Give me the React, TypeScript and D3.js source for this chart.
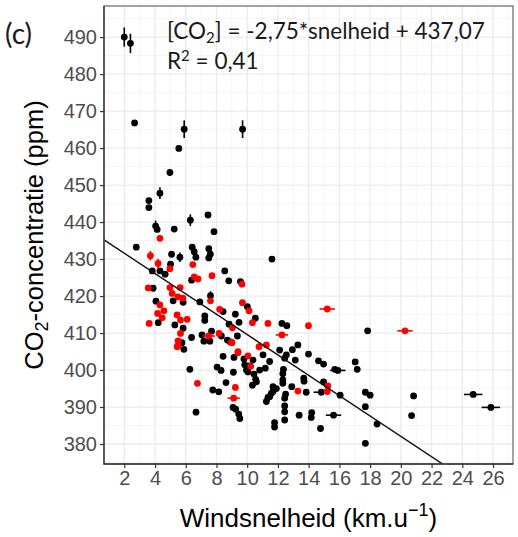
import React, { useEffect, useRef } from 'react';
import * as d3 from 'd3';

// wind speed (km/u) vs CO2 concentration (ppm)
const blackPoints: [number, number][] = [
  [2.0, 490], [2.4, 488.3], [2.67, 466.8], [5.9, 465.1], [9.7, 465.1], [5.55, 459.9],
  [4.97, 453.4], [4.32, 447.8], [3.6, 445.8], [3.6, 443.9], [6.3, 440.5], [7.45, 441.9],
  [4.04, 438.9], [4.14, 438.0], [5.25, 438.1], [7.84, 437.4], [2.78, 433.2], [5.08, 431.3],
  [5.62, 430.5], [5.01, 428.6], [3.82, 426.8], [4.32, 426.8], [4.66, 425.9], [6.42, 433.2],
  [6.55, 432.0], [6.66, 430.5], [7.5, 432.8], [7.6, 431.3], [7.5, 430.3], [6.38, 424.3],
  [8.54, 426.8], [8.8, 424.1], [9.56, 423.9], [11.61, 430.0], [3.88, 422.1], [4.06, 418.6],
  [4.21, 412.8], [5.18, 418.7], [5.83, 418.3], [5.29, 412.2], [5.83, 411.3], [5.75, 407.4],
  [5.88, 405.6], [6.38, 408.8], [6.92, 418.4], [7.61, 420.1], [7.24, 414.6], [7.24, 413.4],
  [7.06, 409.5], [7.57, 407.8], [7.18, 407.8], [7.68, 410.5], [8.43, 415.8], [9.23, 415.1],
  [8.82, 412.4], [9.47, 412.9], [9.36, 409.2], [8.71, 408.1], [8.32, 409.2], [10.01, 417.1],
  [10.53, 414.0], [12.26, 412.6], [12.58, 412.0], [11.03, 404.1], [12.11, 405.4], [12.55, 404.1],
  [12.94, 405.5], [13.3, 406.8], [13.13, 402.7], [12.44, 403.2], [13.99, 404.3], [11.46, 402.3],
  [11.18, 400.5], [10.81, 400.0], [10.38, 402.7], [9.79, 403.0], [10.16, 401.1], [9.95, 400.0],
  [10.55, 397.5], [10.34, 395.9], [9.14, 403.4], [8.43, 403.7], [8.04, 400.8], [8.3, 399.9],
  [9.1, 399.4], [6.27, 400.2], [7.76, 394.6], [8.15, 394.1], [8.62, 396.6], [9.08, 389.9],
  [9.25, 389.4], [9.45, 388.1], [9.52, 386.9], [6.67, 388.6], [11.68, 394.2], [11.46, 392.8],
  [11.25, 391.5], [11.9, 395.0], [11.78, 385.8], [11.78, 384.6], [12.44, 388.7], [12.44, 390.3],
  [12.44, 392.4], [12.5, 393.5], [12.44, 386.5], [12.32, 399.0], [12.36, 400.2], [12.32, 397.3],
  [12.9, 395.5], [13.38, 387.8], [13.84, 394.0], [14.2, 388.5], [14.17, 387.2], [13.68, 397.8],
  [13.7, 397.0], [11.68, 395.5], [14.64, 402.5], [14.97, 401.6], [15.7, 400.2], [15.9, 399.9],
  [17.03, 402.2], [17.16, 400.2], [14.97, 396.8], [14.82, 394.0], [16.05, 393.2], [17.69, 394.0],
  [18.0, 393.2], [20.83, 393.0], [17.69, 390.1], [20.7, 387.7], [24.71, 393.4], [25.86, 389.9],
  [15.62, 387.8], [14.77, 384.2], [18.45, 385.4], [17.69, 380.2], [17.84, 410.6], [8.9, 407.6],
  [9.84, 401.4], [10.05, 399.5], [10.44, 398.9], [12.32, 396.4], [10.6, 396.8], [11.57, 393.7],
  [11.35, 392.6],
];

const redPoints: [number, number][] = [
  [4.32, 435.6], [3.7, 430.9], [4.2, 428.8], [4.97, 427.4], [6.46, 428.5], [6.55, 425.2],
  [6.8, 424.6], [7.71, 425.5], [9.66, 423.2], [3.56, 422.2], [4.97, 422.3], [5.64, 422.3],
  [5.12, 420.7], [5.49, 419.8], [5.81, 419.4], [4.32, 417.6], [4.58, 416.0], [4.17, 415.3],
  [4.47, 414.1], [3.62, 412.6], [5.44, 414.9], [5.66, 413.5], [6.09, 413.7], [5.66, 409.9],
  [5.5, 407.9], [5.44, 406.3], [7.61, 418.7], [7.5, 409.2], [8.17, 409.9], [8.21, 416.4],
  [9.04, 411.4], [8.97, 407.5], [9.4, 405.0], [9.69, 418.2], [10.12, 416.0], [10.34, 412.8],
  [11.35, 412.6], [13.99, 412.0], [12.26, 409.5], [10.77, 406.3], [11.25, 406.8], [10.23, 401.0],
  [9.4, 404.7], [9.01, 407.4], [10.05, 403.8], [6.76, 396.4], [9.23, 395.3], [9.12, 392.4],
  [13.3, 394.3], [15.21, 416.5], [20.27, 410.6], [15.25, 395.7], [15.21, 394.2], [5.49, 406.5],
];

// error bars: [x, y, half-width]
const blackYErr: [number, number, number][] = [
  [2.0, 490, 2.6], [2.4, 488.3, 2.6], [5.9, 465.1, 2.4], [9.7, 465.1, 2.4],
  [4.32, 447.8, 1.6], [6.3, 440.5, 1.6], [4.04, 438.9, 1.5], [5.62, 430.5, 1.3], [7.61, 420.1, 1.2],
];
const blackXErr: [number, number, number][] = [
  [24.71, 393.4, 0.6], [25.86, 389.9, 0.6], [15.62, 387.8, 0.5], [14.82, 394.0, 0.5], [15.9, 399.9, 0.5],
];
const redYErr: [number, number, number][] = [
  [3.7, 430.9, 1.3], [4.2, 428.8, 1.3],
];
const redXErr: [number, number, number][] = [
  [7.5, 409.2, 0.4], [12.26, 409.5, 0.4], [9.12, 392.4, 0.4], [15.21, 416.5, 0.5], [20.27, 410.6, 0.5],
];

const xTicks = [2, 4, 6, 8, 10, 12, 14, 16, 18, 20, 22, 24, 26];
const yTicks = [380, 390, 400, 410, 420, 430, 440, 450, 460, 470, 480, 490];

const slope = -2.75;
const intercept = 437.07;

const W = 518;
const H = 537;

const App = () => {
  const svgRef = useRef<SVGSVGElement>(null);

  useEffect(() => {
    const svg = d3.select(svgRef.current);
    svg.selectAll('*').remove();

    const left = 104, right = 513, top = 6, bottom = 464;

    const x = d3.scaleLinear().domain([0.68, 27.3]).range([left, right]);
    const y = d3.scaleLinear().domain([374.6, 498.4]).range([bottom, top]);

    svg.append('rect').attr('width', W).attr('height', H).attr('fill', '#fff');

    // gridlines
    const grid = svg.append('g');
    d3.range(1, 28, 1).filter(v => v % 2 === 1).forEach(v => {
      grid.append('line').attr('x1', x(v)).attr('x2', x(v)).attr('y1', top).attr('y2', bottom)
        .attr('stroke', '#f2f2f2').attr('stroke-width', 0.8);
    });
    d3.range(375, 500, 10).forEach(v => {
      grid.append('line').attr('x1', left).attr('x2', right).attr('y1', y(v)).attr('y2', y(v))
        .attr('stroke', '#f2f2f2').attr('stroke-width', 0.8);
    });
    xTicks.forEach(v => {
      grid.append('line').attr('x1', x(v)).attr('x2', x(v)).attr('y1', top).attr('y2', bottom)
        .attr('stroke', '#ebebeb').attr('stroke-width', 1.3);
    });
    yTicks.forEach(v => {
      grid.append('line').attr('x1', left).attr('x2', right).attr('y1', y(v)).attr('y2', y(v))
        .attr('stroke', '#ebebeb').attr('stroke-width', 1.3);
    });

    const clip = svg.append('clipPath').attr('id', 'panel-clip');
    clip.append('rect').attr('x', left).attr('y', top).attr('width', right - left).attr('height', bottom - top);

    const plot = svg.append('g').attr('clip-path', 'url(#panel-clip)');

    // error bars
    const drawYErr = (rows: [number, number, number][], color: string) => {
      rows.forEach(([a, b, e]) => {
        plot.append('line').attr('x1', x(a)).attr('x2', x(a)).attr('y1', y(b - e)).attr('y2', y(b + e))
          .attr('stroke', color).attr('stroke-width', 1.6);
      });
    };
    const drawXErr = (rows: [number, number, number][], color: string) => {
      rows.forEach(([a, b, e]) => {
        plot.append('line').attr('x1', x(a - e)).attr('x2', x(a + e)).attr('y1', y(b)).attr('y2', y(b))
          .attr('stroke', color).attr('stroke-width', 1.6);
      });
    };
    drawYErr(blackYErr, '#000');
    drawXErr(blackXErr, '#000');

    plot.selectAll('circle.black')
      .data(blackPoints)
      .enter().append('circle')
      .attr('class', 'black')
      .attr('cx', d => x(d[0]))
      .attr('cy', d => y(d[1]))
      .attr('r', 3.4)
      .attr('fill', '#000');

    drawYErr(redYErr, '#ff0000');
    drawXErr(redXErr, '#ff0000');

    plot.selectAll('circle.red')
      .data(redPoints)
      .enter().append('circle')
      .attr('class', 'red')
      .attr('cx', d => x(d[0]))
      .attr('cy', d => y(d[1]))
      .attr('r', 3.4)
      .attr('fill', '#ff0000');

    // regression line
    const x0 = 0.68, x1 = 27.3;
    plot.append('line')
      .attr('x1', x(x0)).attr('y1', y(slope * x0 + intercept))
      .attr('x2', x(x1)).attr('y2', y(slope * x1 + intercept))
      .attr('stroke', '#111').attr('stroke-width', 1.4);

    // panel border
    svg.append('rect').attr('x', left).attr('y', top).attr('width', right - left).attr('height', bottom - top)
      .attr('fill', 'none').attr('stroke', '#666').attr('stroke-width', 1.2);
    svg.append('path')
      .attr('d', `M${left},${top}V${bottom}H${right}`)
      .attr('fill', 'none').attr('stroke', '#333').attr('stroke-width', 1.3);

    // axes
    const font = '"Liberation Sans", Arial, sans-serif';
    const yAxis = svg.append('g').attr('transform', `translate(${left},0)`)
      .call(d3.axisLeft(y).tickValues(yTicks).tickSize(4).tickPadding(3));
    const xAxis = svg.append('g').attr('transform', `translate(0,${bottom})`)
      .call(d3.axisBottom(x).tickValues(xTicks).tickSize(4).tickPadding(3));
    [yAxis, xAxis].forEach(a => {
      a.select('.domain').remove();
      a.selectAll('line').attr('stroke', '#333').attr('stroke-width', 1.2);
      a.selectAll('text').attr('fill', '#4d4d4d').attr('font-size', 20).attr('font-family', font);
    });

    // axis titles
    const yt = svg.append('text')
      .attr('transform', `translate(43,${(top + bottom) / 2}) rotate(-90)`)
      .attr('text-anchor', 'middle')
      .attr('font-family', font).attr('font-size', 25.5).attr('fill', '#000');
    yt.append('tspan').text('CO');
    yt.append('tspan').attr('font-size', 18).attr('dy', 5).text('2');
    yt.append('tspan').attr('dy', -5).text('-concentratie (ppm)');

    const xt = svg.append('text')
      .attr('x', (left + right) / 2).attr('y', 527)
      .attr('text-anchor', 'middle')
      .attr('font-family', font).attr('font-size', 26).attr('fill', '#000');
    xt.append('tspan').text('Windsnelheid (km.u');
    xt.append('tspan').attr('font-size', 18).attr('dy', -11).text('\u22121');
    xt.append('tspan').attr('dy', 11).text(')');

    // panel tag and equation
    const lato = 'Lato, "Open Sans", sans-serif';
    svg.append('text').attr('x', 5).attr('y', 44)
      .attr('font-family', lato).attr('font-size', 28).attr('fill', '#1a1a1a').text('(c)');

    const eq = svg.append('text').attr('x', 167).attr('y', 39)
      .attr('font-family', lato).attr('font-size', 22.5).attr('fill', '#1a1a1a');
    eq.append('tspan').text('[CO');
    eq.append('tspan').attr('font-size', 15).attr('dy', 4).text('2');
    eq.append('tspan').attr('dy', -4).text('] = -2,75*snelheid + 437,07');

    const r2 = svg.append('text').attr('x', 167).attr('y', 69)
      .attr('font-family', lato).attr('font-size', 22.5).attr('fill', '#1a1a1a');
    r2.append('tspan').text('R');
    r2.append('tspan').attr('font-size', 15).attr('dy', -8).text('2');
    r2.append('tspan').attr('dy', 8).text(' = 0,41');
  }, []);

  return (
    <div style={{ position: 'absolute', left: 0, top: 0 }}>
      <svg ref={svgRef} width={W} height={H} style={{ display: 'block' }}></svg>
    </div>
  );
};

export default App;
